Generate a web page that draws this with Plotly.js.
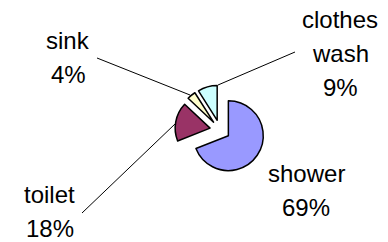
<!DOCTYPE html>
<html><head><meta charset="utf-8">
<script src="https://cdn.plot.ly/plotly-3.0.1.min.js"></script>
<style>html,body{margin:0;padding:0;background:#fff}#chart{width:388px;height:242px}</style>
</head><body><div id="chart"></div>
<script>
const categories = ['shower', 'toilet', 'sink', 'clothes wash'];
const values = [69, 18, 4, 9];
const colors = ['#9999FF', '#993366', '#FFFFCC', '#CCFFFF'];

const W = 388, H = 242;
// label placement in pixels: [center x, first-line baseline y]
const labelPos = {'shower': [306, 182], 'toilet': [50, 203], 'sink': [68, 49], 'clothes wash': [340, 28]};
const leaderLines = {'toilet': [[82, 213], [175, 124]], 'sink': [[97, 58], [190, 95]], 'clothes wash': [[295, 52], [218, 85]]};
const lineGap = 34, fontSize = 24;

const total = values.reduce((a, b) => a + b, 0);
const px = x => x / W, py = y => 1 - y / H;
const annotations = [], shapes = [];
categories.forEach((c, i) => {
  const lines = c.split(' ').concat([Math.round(values[i] / total * 100) + '%']);
  const [cx, by] = labelPos[c];
  lines.forEach((t, j) => {
    annotations.push({text: t, x: px(cx), y: py(by + j * lineGap - 8.5), xref: 'paper', yref: 'paper',
      showarrow: false, xanchor: 'center', yanchor: 'middle',
      font: {family: 'Liberation Sans, Arial, sans-serif', size: fontSize, color: '#000'}});
  });
  const ll = leaderLines[c];
  if (ll) shapes.push({type: 'line', xref: 'paper', yref: 'paper', x0: px(ll[0][0]), y0: py(ll[0][1]),
    x1: px(ll[1][0]), y1: py(ll[1][1]), line: {color: '#000', width: 1}});
});

const trace = {
  type: 'pie', values: values, labels: categories, sort: false, direction: 'clockwise', rotation: 0,
  pull: values.map(() => 0.29), textinfo: 'none', hoverinfo: 'none', showlegend: false,
  marker: {colors: colors, line: {color: '#000', width: 1.5}},
  domain: {x: [175 / W, 265 / W], y: [67 / H, 157 / H]}
};
Plotly.newPlot('chart', [trace], {
  width: W, height: H, margin: {l: 0, r: 0, t: 0, b: 0}, paper_bgcolor: '#fff',
  annotations: annotations, shapes: shapes, showlegend: false
}, {displayModeBar: false, staticPlot: true});
</script></body></html>
